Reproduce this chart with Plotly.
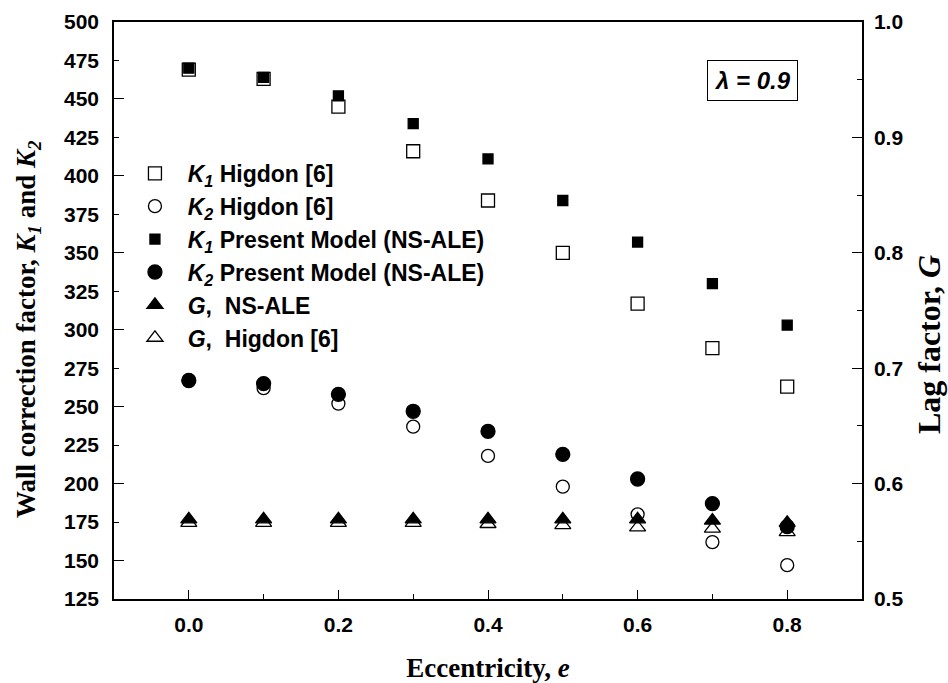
import plotly.graph_objects as go

ecc = [0.0, 0.1, 0.2, 0.3, 0.4, 0.5, 0.6, 0.7, 0.8]
k1_higdon = [469, 463, 445, 416, 384, 350, 317, 288, 263]
k2_higdon = [267, 262, 252, 237, 218, 198, 180, 162, 147]
k1_present = [470, 464, 452, 434, 411, 384, 357, 330, 303]
k2_present = [267, 265, 258, 247, 234, 219, 203, 187, 172]
g_nsale = [0.569, 0.569, 0.569, 0.569, 0.569, 0.569, 0.569, 0.568, 0.566]
g_higdon = [0.566, 0.566, 0.566, 0.566, 0.565, 0.564, 0.562, 0.561, 0.558]

left_ticks = list(range(125, 501, 25))
left_major = list(range(150, 501, 50))

SANS = "Liberation Sans, Arial, sans-serif"
SERIF = "Liberation Serif, Times New Roman, serif"
SP = "&nbsp;&nbsp;"

fig = go.Figure()

def add(y, name, symbol, size, axis="y", group=""):
    fig.add_trace(go.Scatter(
        x=ecc, y=y, mode="markers", name=SP + name, yaxis=axis, legendgroup=group,
        marker=dict(symbol=symbol, size=size, color="black",
                    line=dict(color="black", width=1.3)),
    ))

add(k1_higdon, "<i>K</i><sub><i>1</i></sub> Higdon [6]", "square-open", 13, group="a")
add(k2_higdon, "<i>K</i><sub><i>2</i></sub> Higdon [6]", "circle-open", 13, group="b")
add(k1_present, "<i>K</i><sub><i>1</i></sub> Present Model (NS-ALE)", "square", 10, group="c")
add(k2_present, "<i>K</i><sub><i>2</i></sub> Present Model (NS-ALE)", "circle", 14, group="d")
add(g_nsale, "<i>G</i>,  NS-ALE", "triangle-up", 14, axis="y2", group="e")
add(g_higdon, "<i>G</i>,  Higdon [6]", "triangle-up-open", 14, axis="y2", group="f")

# helper trace for long major ticks on the left axis
fig.add_trace(go.Scatter(x=[None], y=[None], yaxis="y3", showlegend=False,
                         hoverinfo="skip"))

fig.update_layout(
    width=948, height=683,
    margin=dict(l=114, r=86, t=22, b=84, autoexpand=False),
    paper_bgcolor="white", plot_bgcolor="white",
    showlegend=True,
    legend=dict(x=0.028, y=0.775, xanchor="left", yanchor="top",
                font=dict(family=SANS, size=23, color="black", weight="bold"),
                bgcolor="rgba(0,0,0,0)", traceorder="grouped",
                tracegroupgap=0, itemsizing="trace", itemwidth=30),
    xaxis=dict(range=[-0.1, 0.9], dtick=0.2, tick0=0, tickformat=".1f",
               automargin=False,
               ticks="inside", ticklen=9, tickwidth=1.3, tickcolor="black",
               minor=dict(dtick=0.1, ticks="inside", ticklen=5, tickwidth=1.3,
                          tickcolor="black", showgrid=False),
               showline=True, linecolor="black", linewidth=1.5, mirror=True,
               showgrid=False, zeroline=False, ticklabelstandoff=6,
               tickfont=dict(family=SANS, size=21, color="black", weight="bold"),
               title=dict(text="Eccentricity, <i>e</i>", standoff=24,
                          font=dict(family=SERIF, size=27, color="black", weight="bold"))),
    yaxis=dict(range=[125, 500], tickvals=left_ticks, automargin=False,
               ticks="inside", ticklen=5, tickwidth=1.3, tickcolor="black",
               showline=True, linecolor="black", linewidth=1.5,
               showgrid=False, zeroline=False, ticklabelstandoff=9,
               tickfont=dict(family=SANS, size=21, color="black", weight="bold")),
    yaxis3=dict(range=[125, 500], overlaying="y", side="left", tickvals=left_major,
                automargin=False,
                ticks="inside", ticklen=10, tickwidth=1.3, tickcolor="black",
                showticklabels=False, showline=False, showgrid=False, zeroline=False),
    yaxis2=dict(range=[0.5, 1.0], overlaying="y", side="right", dtick=0.1, tick0=0.5,
                tickformat=".1f", automargin=False,
                ticks="inside", ticklen=10, tickwidth=1.3, tickcolor="black",
                minor=dict(dtick=0.05, ticks="inside", ticklen=5, tickwidth=1.3,
                           tickcolor="black", showgrid=False),
                showline=True, linecolor="black", linewidth=1.5,
                showgrid=False, zeroline=False, ticklabelstandoff=6,
                tickfont=dict(family=SANS, size=21, color="black", weight="bold")),
    annotations=[
        dict(x=0.853, y=0.898, xref="paper", yref="paper",
             xanchor="center", yanchor="middle",
             text="<i>λ = 0.9</i>", showarrow=False,
             font=dict(family=SANS, size=24, color="black", weight="bold"),
             bordercolor="black", borderwidth=1, borderpad=6, bgcolor="white"),
        dict(x=0, y=0.468, xref="paper", yref="paper", xshift=-86,
             xanchor="center", yanchor="middle", textangle=-90, showarrow=False,
             text="Wall correction factor, <i>K</i><sub><i>1</i></sub> and <i>K</i><sub><i>2</i></sub>",
             font=dict(family=SERIF, size=27, color="black", weight="bold")),
        dict(x=1, y=0.44, xref="paper", yref="paper", xshift=67,
             xanchor="center", yanchor="middle", textangle=-90, showarrow=False,
             text="Lag factor, <i>G</i>",
             font=dict(family=SERIF, size=32, color="black", weight="bold")),
    ],
)

fig.write_html("out.html")
